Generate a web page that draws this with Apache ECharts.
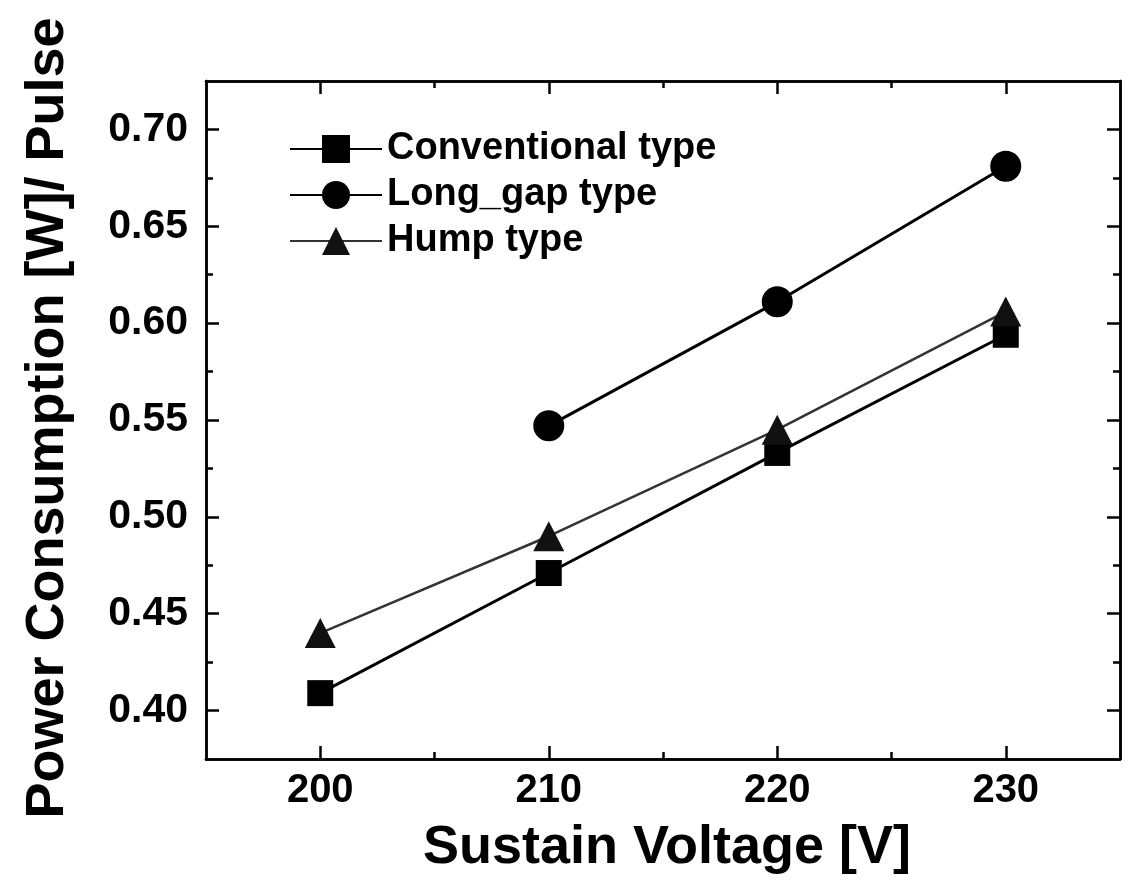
<!DOCTYPE html>
<html>
<head>
<meta charset="utf-8">
<script src="https://cdn.jsdelivr.net/npm/echarts@6/dist/echarts.min.js"></script>
<style>
    html, body { margin: 0; padding: 0; background: #fff; }
    #main { width: 1129px; height: 881px; }
</style>
</head>
<body>
<div id="main"></div>
<script>
    // data
    var voltage = [200, 210, 220, 230];
    var conventional = [0.409, 0.471, 0.533, 0.594];
    var longGap = [null, 0.547, 0.611, 0.681];
    var hump = [0.440, 0.490, 0.545, 0.606];

    var xTicks = [200, 210, 220, 230];
    var xMinor = [205, 215, 225];
    var yTicks = [0.40, 0.45, 0.50, 0.55, 0.60, 0.65, 0.70];
    var yMinor = [0.425, 0.475, 0.525, 0.575, 0.625, 0.675];

    var FONT = '"Liberation Sans", Arial, sans-serif';

    function pairs(vals) {
        return voltage.map(function (v, i) { return [v, vals[i]]; });
    }

    // one axis = one set of ticks (major or minor), bottom/top or left/right
    function xAx(pos, ticks, len, label) {
        return {
            type: 'value', position: pos, min: 195, max: 235, gridIndex: 0,
            axisLine: { show: true, onZero: false, lineStyle: { color: '#000', width: 2.5 } },
            axisTick: { show: true, inside: true, length: len, customValues: ticks, lineStyle: { color: '#000', width: 2.5 } },
            axisLabel: label ? {
                show: true, customValues: ticks, margin: 12,
                color: '#000', fontFamily: FONT, fontWeight: 'bold', fontSize: 40
            } : { show: false },
            splitLine: { show: false }
        };
    }
    function yAx(pos, ticks, len, label) {
        return {
            type: 'value', position: pos, min: 0.375, max: 0.725, gridIndex: 0,
            axisLine: { show: true, onZero: false, lineStyle: { color: '#000', width: 2.5 } },
            axisTick: { show: true, inside: true, length: len, customValues: ticks, lineStyle: { color: '#000', width: 2.5 } },
            axisLabel: label ? {
                show: true, customValues: ticks, margin: 18,
                color: '#000', fontFamily: FONT, fontWeight: 'bold', fontSize: 41,
                formatter: function (v) { return v.toFixed(2); }
            } : { show: false },
            splitLine: { show: false }
        };
    }

    var xAxes = [
        xAx('bottom', xTicks, 13, true),
        xAx('bottom', xMinor, 7, false),
        xAx('top', xTicks, 13, false),
        xAx('top', xMinor, 7, false)
    ];
    var yAxes = [
        yAx('left', yTicks, 13, true),
        yAx('left', yMinor, 7, false),
        yAx('right', yTicks, 13, false),
        yAx('right', yMinor, 7, false)
    ];

    var chart = echarts.init(document.getElementById('main'));
    chart.setOption({
        animation: false,
        backgroundColor: '#fff',
        grid: { left: 206, right: 9, top: 81, bottom: 122 },
        xAxis: xAxes,
        yAxis: yAxes,
        legend: {
            orient: 'vertical',
            left: 284,
            top: 125,
            itemWidth: 92,
            itemHeight: 35,
            itemGap: 8,
            textStyle: { color: '#000', fontFamily: FONT, fontWeight: 'bold', fontSize: 38 },
            data: ['Conventional type', 'Long_gap type', 'Hump type']
        },
        graphic: [{
            type: 'text',
            x: 48, y: 418,
            rotation: Math.PI / 2,
            style: {
                text: 'Power Consumption [W]/ Pulse',
                fill: '#000',
                font: 'bold 54px ' + FONT,
                align: 'center',
                verticalAlign: 'middle'
            }
        }, {
            type: 'text',
            x: 667, y: 848,
            style: {
                text: 'Sustain Voltage [V]',
                fill: '#000',
                font: 'bold 54px ' + FONT,
                align: 'center',
                verticalAlign: 'middle'
            }
        }],
        series: [
            {
                name: 'Conventional type', type: 'line',
                data: pairs(conventional),
                symbol: 'rect', symbolSize: 26,
                itemStyle: { color: '#000' },
                lineStyle: { color: '#000', width: 3 },
                z: 3
            },
            {
                name: 'Long_gap type', type: 'line',
                data: pairs(longGap),
                symbol: 'circle', symbolSize: 31,
                itemStyle: { color: '#000' },
                lineStyle: { color: '#000', width: 3 },
                z: 3
            },
            {
                name: 'Hump type', type: 'line',
                data: pairs(hump),
                symbol: 'triangle', symbolSize: [31, 30],
                itemStyle: { color: '#111' },
                lineStyle: { color: '#333', width: 2.5 },
                z: 4
            }
        ]
    });
</script>
</body>
</html>
